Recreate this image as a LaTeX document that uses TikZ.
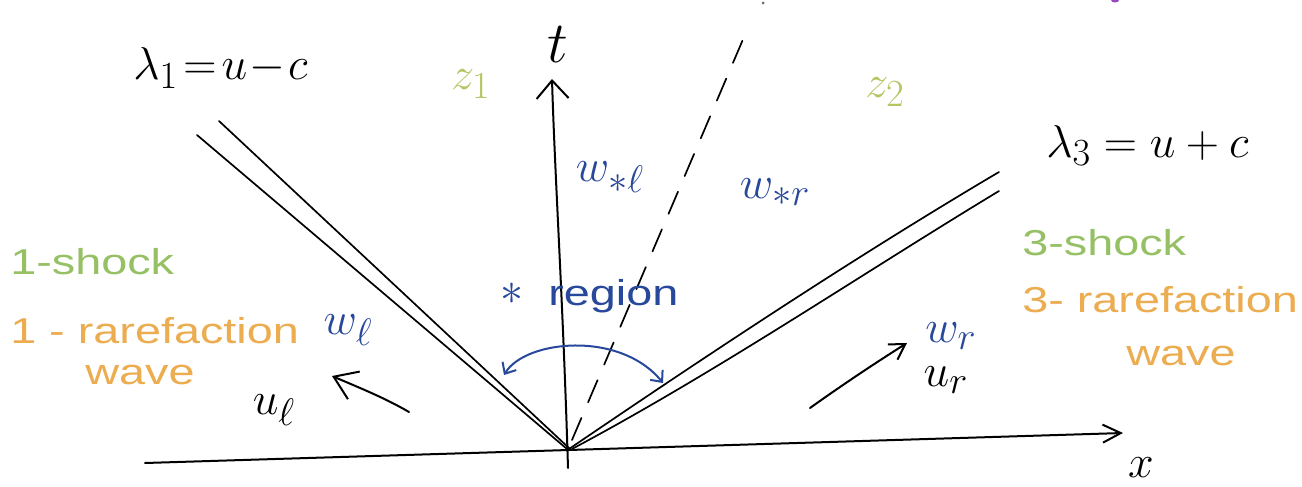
\documentclass[tikz,border=0pt]{standalone}
\usepackage{fontspec}
\setmainfont{Liberation Sans}
\usetikzlibrary{arrows.meta}
\definecolor{inkblue}{RGB}{40,72,155}
\definecolor{inkgreen}{RGB}{150,192,100}
\definecolor{inkyellow}{RGB}{178,198,98}
\definecolor{inkorange}{RGB}{236,172,80}
\definecolor{inkpurple}{RGB}{150,70,190}
\begin{document}
\begin{tikzpicture}[x=1pt,y=-1pt,
  ink/.style={line width=2pt, line cap=round, line join=round},
  thin ink/.style={line width=1.7pt, line cap=round, line join=round},
  txt/.style={inner sep=0pt, font=\fontsize{36}{40}\selectfont, xscale=1.3},
  mth/.style={inner sep=0pt, font=\Huge, scale=1.85},
  big/.style={inner sep=0pt, font=\Huge, scale=2.35},
  barbT/.tip={Straight Barb[length=18pt,width=32pt]},
  barbX/.tip={Straight Barb[length=18pt,width=18pt]},
  barbU/.tip={Straight Barb[length=22pt,width=30pt]},
  barbS/.tip={Straight Barb[length=15pt,width=18pt]},
  barbA/.tip={Straight Barb[length=9pt,width=16pt]}]
\fill[white] (0,0) rectangle (1302,487);
\useasboundingbox (0,0) rectangle (1302,487);

% key points
\coordinate (O) at (567,449);
\coordinate (tb) at (568,468);
\coordinate (tt) at (552,79);
\coordinate (xl) at (145,463);
\coordinate (xr) at (1123,433);
\coordinate (L1) at (197,135);
\coordinate (L2) at (219,121);
\coordinate (R1) at (999,172);
\coordinate (R2) at (999,191);
\coordinate (Dbot) at (572,440);
\coordinate (Dtop) at (747,30);
\coordinate (Aleft) at (504,375);
\coordinate (Aright) at (663,383);
\coordinate (ULs) at (409,412);
\coordinate (ULe) at (332,376);
\coordinate (URs) at (810,408);
\coordinate (URe) at (907,343);

% axes
\draw[ink,-barbT] (tb) .. controls (563,300) and (555,180) .. (tt);
\draw[ink,-barbX] (xl) -- (xr);

% characteristic fans (double lines)
\draw[thin ink] (L1) -- (O);
\draw[thin ink] (L2) -- ([xshift=3pt]O);
\draw[thin ink] (R1) .. controls (850,260) and (700,360) .. ([xshift=2pt]O);
\draw[thin ink] (R2) .. controls (860,275) and (720,370) .. ([xshift=5pt]O);

% contact discontinuity (dashed)
\draw[thin ink, dash pattern=on 24pt off 17pt] (Dbot) -- (Dtop);
\fill[black!60] (763,3) circle (1.5pt);
\fill[inkpurple] (1115,0) ellipse (4pt and 2.5pt);

% star-region arc
\draw[ink, inkblue, barbA-barbA] (Aleft) .. controls (525,340) and (620,330) .. (Aright);

% velocity arrows
\draw[ink,-barbU] (ULs) .. controls (385,398) and (360,388) .. (ULe);
\draw[ink,-barbS] (URs) .. controls (845,383) and (880,360) .. (URe);

% labels
\node[mth, anchor=base west] (lam1) at (133,80) {$\lambda_1\!=\!u\!-\!c$};
\node[mth, anchor=base west] (lam3) at (1046,157) {$\lambda_3 = u+c$};
\node[big] (tlab) at (558,45) {$t$};
\node[mth] (xlab) at (1141,468) {$x$};
\node[mth, text=inkyellow] (z1) at (471,84) {$z_1$};
\node[mth, text=inkyellow] (z2) at (885,92) {$z_2$};
\node[mth, text=inkblue] (wsl) at (610,177) {$w_{*\ell}$};
\node[mth, text=inkblue] (wsr) at (775,192) {$w_{*r}$};
\node[mth, text=inkblue, anchor=west] (star) at (500,294) {$\ast$};
\node[txt, text=inkblue, anchor=west] (reg) at (548,296) {region};
\node[mth, text=inkblue] (wl) at (348,330) {$w_\ell$};
\node[mth] (ul) at (274,410) {$u_\ell$};
\node[mth, text=inkblue] (wr) at (951,336) {$w_r$};
\node[mth] (ur) at (946,380) {$u_r$};

\node[txt, text=inkgreen, anchor=west] (s1) at (10,262) {1-shock};
\node[txt, text=inkorange, anchor=west] (r1) at (10,331) {1 - rarefaction};
\node[txt, text=inkorange] (v1) at (140,375) {wave};
\node[txt, text=inkgreen, anchor=west] (s3) at (1022,243) {3-shock};
\node[txt, text=inkorange, anchor=west] (r3) at (1022,300) {3- rarefaction};
\node[txt, text=inkorange] (v3) at (1181,356) {wave};
\end{tikzpicture}
\end{document}
